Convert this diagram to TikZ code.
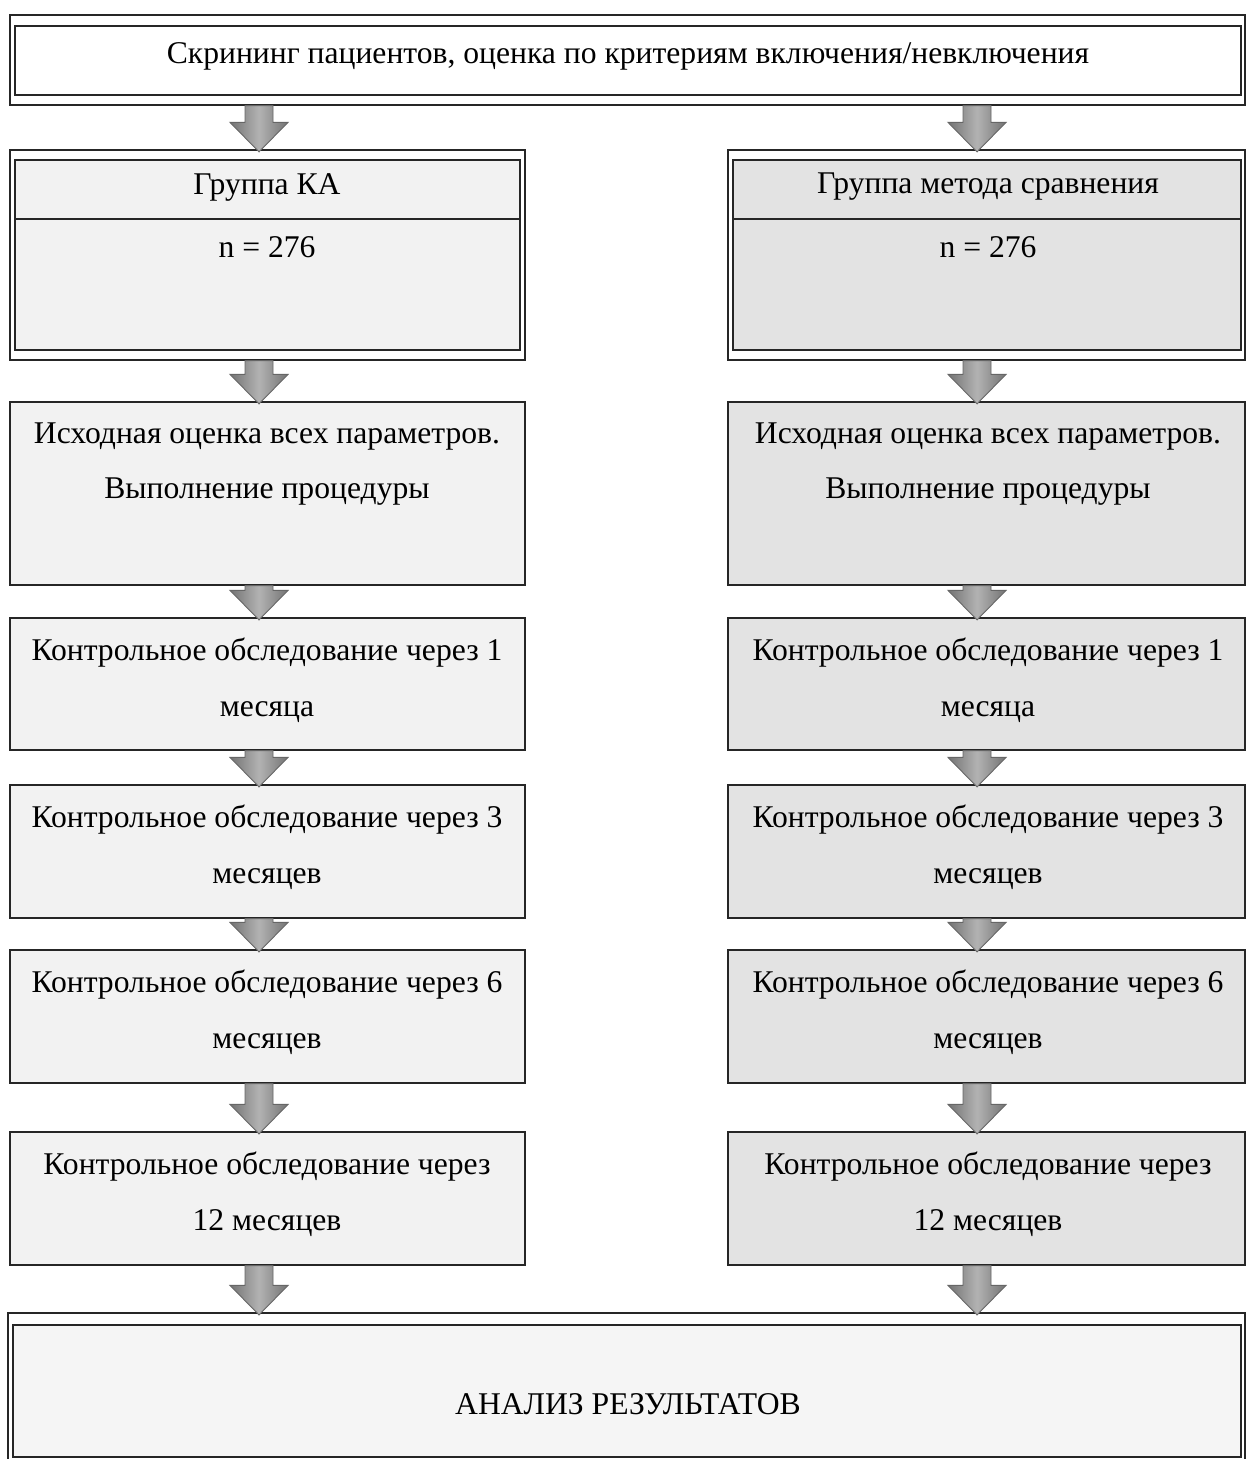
\documentclass[tikz,border=0pt]{standalone}
\usepackage{fontspec}
\setmainfont{Liberation Serif}
\usetikzlibrary{fit,positioning}

\tikzset{
  frame/.style={draw=black!85, line width=0.7pt, inner sep=0pt},
  leftbox/.style={frame, fill=black!5},
  rightbox/.style={frame, fill=black!11},
  txt/.style={font=\fontsize{18}{31.75}\selectfont, align=center, inner sep=0pt, yshift=-0.08cm},
  flow/.style={draw=black!60, line width=0.5pt, left color=black!55, right color=black!55, middle color=black!30}
}

% block arrow: column, from node, to node
\newcommand\blockarr[3]{%
  \draw[flow] ([xshift=-0.28cm]#1 |- #2.south) -- ([xshift=0.28cm]#1 |- #2.south)
    -- ([xshift=0.28cm,yshift=0.54cm]#1 |- #3.north) -- ([xshift=0.58cm,yshift=0.54cm]#1 |- #3.north)
    -- ([yshift=-0.05cm]#1 |- #3.north) -- ([xshift=-0.58cm,yshift=0.54cm]#1 |- #3.north)
    -- ([xshift=-0.28cm,yshift=0.54cm]#1 |- #3.north) -- cycle;}

\begin{document}
\begin{tikzpicture}[x=0.02cm, y=-0.02cm]
  \useasboundingbox[fill=white] (0,0) rectangle (1247,1459);

  \coordinate (lcol) at (259,0);
  \coordinate (rcol) at (977,0);
  \coordinate (div) at (0,219);

  % screening
  \node[frame, fill=white, fit={(10,15) (1245,105)}] (screen) {};
  \node[frame, fill=white, fit={(15,26) (1241,95)}] (screenin) {};
  \node[txt] (screentxt) at (628,52) {Скрининг пациентов, оценка по критериям включения/невключения};

  % groups
  \node[frame, fill=white, fit={(10,150) (525,360)}] (ka) {};
  \node[leftbox, fit={(15,160) (520,350)}] (kain) {};
  \draw[frame] (kain.west |- div) -- (kain.east |- div);
  \node[txt] (katitle) at (267,183) {Группа КА};
  \node[txt] (kan) at (267,243) {n = 276};

  \node[frame, fill=white, fit={(728,150) (1245,360)}] (cmp) {};
  \node[rightbox, fit={(733,160) (1241,350)}] (cmpin) {};
  \draw[frame] (cmpin.west |- div) -- (cmpin.east |- div);
  \node[txt] (cmptitle) at (988,183) {Группа метода сравнения};
  \node[txt] (cmpn) at (988,243) {n = 276};

  % stages
  \foreach \i/\ya/\yb/\lines in {
      1/402/585/{Исходная оценка всех параметров.\\Выполнение процедуры},
      2/618/750/{Контрольное обследование через 1\\месяца},
      3/785/918/{Контрольное обследование через 3\\месяцев},
      4/950/1083/{Контрольное обследование через 6\\месяцев},
      5/1132/1265/{Контрольное обследование через\\12 месяцев}} {
    \node[leftbox, fit={(10,\ya) (525,\yb)}] (l\i) {};
    \node[rightbox, fit={(728,\ya) (1245,\yb)}] (r\i) {};
    \node[txt] (lt\i) at (267,\ya+58) {\lines};
    \node[txt] (rt\i) at (988,\ya+58) {\lines};
  }

  % results
  \node[frame, fill=white, fit={(8,1313) (1245,1463)}] (result) {};
  \node[frame, fill=black!4, fit={(13,1325) (1241,1457)}] (resultin) {};
  \node[txt] (resulttxt) at (628,1400) {АНАЛИЗ РЕЗУЛЬТАТОВ};

  % arrows
  \blockarr{lcol}{screen}{ka}
  \blockarr{rcol}{screen}{cmp}
  \blockarr{lcol}{ka}{l1}
  \blockarr{rcol}{cmp}{r1}
  \foreach \i/\j in {1/2, 2/3, 3/4, 4/5} {
    \blockarr{lcol}{l\i}{l\j}
    \blockarr{rcol}{r\i}{r\j}
  }
  \blockarr{lcol}{l5}{result}
  \blockarr{rcol}{r5}{result}
\end{tikzpicture}
\end{document}
